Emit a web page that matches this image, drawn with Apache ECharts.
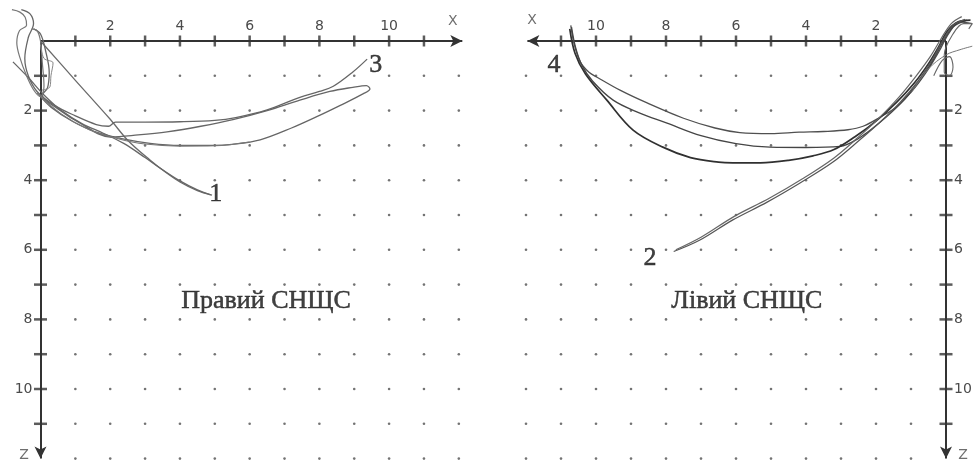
<!DOCTYPE html>
<html><head><meta charset="utf-8">
<script src="https://cdn.jsdelivr.net/npm/echarts@6/dist/echarts.min.js"></script>
<style>html,body{margin:0;padding:0;background:#fff}#c{width:973px;height:466px}</style>
</head><body><div id="c"></div>
<script>
// ---- tick / grid values ----
const tickValues = [1,2,3,4,5,6,7,8,9,10,11];
const dotXs = [1,2,3,4,5,6,7,8,9,10,11,12];
const dotZs = [1,2,3,4,5,6,7,8,9,10,11,12];
const labelValues = [2,4,6,8,10];
const axisEndL = [12.1, 12.0];    // [x end, z end] of left panel axes
const axisEndR = [11.96, 12.0];   // [x end, z end] of right panel axes

// ---- left panel (Правий СНЩС) traces, [x, z] ----
const right1a = [[0,0],[1,1.13],[2,2.25],[2.5,2.85],[3.14,3.42],[3.6,3.78],[4.0,4.05],[4.5,4.3],[4.92,4.43]];
const right1b = [[-0.79,0.6],[-0.35,1.05],[0.1,1.55],[0.6,2.0],[1.2,2.38],[1.8,2.65],[2.4,2.95],[3.0,3.35],[3.5,3.7],[4.0,4.02],[4.5,4.28],[4.88,4.42]];
const right3a = [[-0.55,-0.9],[-0.3,-0.78],[-0.2,-0.5],[-0.35,-0.1],[-0.45,0.5],[-0.35,1.0],[-0.1,1.45],[0.4,1.85],[1.0,2.15],[1.6,2.4],[1.95,2.45],[2.15,2.33],[3,2.33],[4,2.32],[5,2.28],[5.6,2.2],[6.5,1.98],[7.44,1.62],[8.0,1.45],[8.4,1.3],[8.96,0.89],[9.37,0.52]];
const right3b = [[-0.2,-0.35],[0.0,-0.2],[0.15,0.3],[0.25,0.9],[0.2,1.35],[0.05,1.55],[0.5,1.95],[1.2,2.4],[2.0,2.76],[2.8,2.7],[3.63,2.61],[4.6,2.45],[5.52,2.26],[6.5,2.0],[7.44,1.7],[8.3,1.45],[8.96,1.33],[9.35,1.28],[9.45,1.38],[9.25,1.52],[8.6,1.85],[8.02,2.13],[7.2,2.5],[6.3,2.84],[5.5,2.97],[4.95,3.0],[4.0,3.0],[3.14,2.94],[2.4,2.82],[1.6,2.62],[0.9,2.3],[0.3,1.9],[0.0,1.6]];
const right3c = [[-0.1,1.5],[0.6,2.1],[1.4,2.55],[2.2,2.8],[3.0,2.96],[4.0,3.02],[5.0,3.01],[6.0,2.9]];
const rightLoop = [[-0.82,-0.9],[-0.59,-0.83],[-0.44,-0.68],[-0.4,-0.45],[-0.6,-0.3],[-0.68,0.05],[-0.6,0.45],[-0.4,1.0],[-0.2,1.4],[0.0,1.6],[0.1,1.3],[0.05,0.6],[0.0,0.0],[-0.1,-0.3],[-0.25,-0.35]];
const rightLoop2 = [[0.0,0.1],[0.1,0.5],[0.36,0.63],[0.3,1.0],[0.27,1.32],[0.04,1.41]];

// ---- right panel (Лівий СНЩС) traces, [x, z] ----
const left4a = [[10.72,-0.45],[10.62,0.1],[10.45,0.6],[10.2,0.9],[9.97,1.04],[9.3,1.42],[8.54,1.78],[7.5,2.22],[6.6,2.5],[5.89,2.63],[5.0,2.66],[4.2,2.62],[3.5,2.6],[2.8,2.55],[2.37,2.45],[1.9,2.2],[1.4,1.88],[0.9,1.35],[0.5,0.8],[0.2,0.3],[-0.1,-0.25],[-0.4,-0.55],[-0.75,-0.5]];
const left4b = [[10.7,-0.4],[10.58,0.2],[10.4,0.7],[10.1,1.15],[9.51,1.7],[8.8,2.05],[7.97,2.36],[7.0,2.72],[6.0,2.95],[5.03,3.05],[4.0,3.06],[3.03,3.03],[2.5,2.8],[1.9,2.35],[1.3,1.8],[0.8,1.2],[0.4,0.6],[0.1,0.05],[-0.2,-0.4],[-0.6,-0.6]];
const left4c = [[10.75,-0.35],[10.6,0.35],[10.3,0.95],[9.69,1.7],[8.94,2.56],[8.09,3.05],[7.3,3.35],[6.5,3.48],[6.09,3.5],[5.3,3.5],[4.5,3.43],[3.8,3.3],[3.2,3.12],[2.6,2.75],[2.0,2.3],[1.4,1.75],[0.9,1.2],[0.5,0.65],[0.2,0.15],[-0.05,-0.3],[-0.35,-0.55],[-0.7,-0.6]];
const left2a = [[7.78,6.05],[7.03,5.72],[6.09,5.14],[5.11,4.63],[4.17,4.08],[3.23,3.48],[2.46,2.84],[1.85,2.3],[1.3,1.75],[0.8,1.15],[0.4,0.55],[0.1,0.0],[-0.2,-0.45],[-0.55,-0.62]];
const left2b = [[7.72,6.0],[7.0,5.64],[6.05,5.04],[5.05,4.52],[4.1,3.96],[3.2,3.36],[2.5,2.76],[1.9,2.2],[1.35,1.62],[0.85,1.0],[0.45,0.45],[0.15,-0.05],[-0.15,-0.5],[-0.45,-0.7]];
const leftLoop = [[0.35,1.0],[0.1,0.55],[-0.1,0.45],[-0.2,0.75],[-0.1,1.0],[0.05,0.9],[0.05,0.4],[-0.2,-0.2],[-0.5,-0.5],[-0.75,-0.5],[-0.65,-0.35]];
const leftLine = [[1.0,1.5],[0.5,0.8],[0.0,0.4],[-0.4,0.25],[-0.75,0.15]];

// ---- annotations ----
const leftTexts = [[5.03,4.4,'1'],[9.62,0.69,'3'],[6.47,7.47,'Правий СНЩС']];
const rightTexts = [[8.46,6.24,'2'],[11.2,0.69,'4'],[5.69,7.47,'Лівий СНЩС']];
const leftAxisNames = [[11.83,-0.57,'X'],[-0.47,11.9,'Z']];
const rightAxisNames = [[11.83,-0.6,'X'],[-0.49,11.9,'Z']];

// ---- layout ----
const SXL = 34.86, SXR = 35, SZ = 34.8;
const XMIN = -2, XMAX = 13, ZMIN = -1, ZMAX = 13;
const originL = [40.5, 41], originR = [946, 41];

const dots = [];
dotXs.forEach(x => dotZs.forEach(z => dots.push([x, z])));
const xTicks = tickValues.map(v => [v, 0]);
const zTicks = tickValues.map(v => [0, v]);

const lblFont = {fontFamily:'DejaVu Sans', fontSize:14, color:'#4a4a4a'};
function fmt(v){ return labelValues.indexOf(v) >= 0 ? String(v) : ''; }

function axesFor(g, sx, isRight){
  const xAx = {
    type:'value', gridIndex:g, position:'top', min:XMIN, max:XMAX, interval:1, inverse:isRight,
    offset: ZMIN * SZ,
    axisLine:{show:false, onZero:false}, axisTick:{show:false}, splitLine:{show:false},
    axisLabel:Object.assign({show:true, interval:0, margin:8, formatter:fmt, showMinLabel:false, showMaxLabel:false}, lblFont)
  };
  const yAx = {
    type:'value', gridIndex:g, position:isRight ? 'right' : 'left', min:ZMIN, max:ZMAX, interval:1, inverse:true,
    offset: XMIN * sx,
    axisLine:{show:false, onZero:false}, axisTick:{show:false}, splitLine:{show:false},
    axisLabel:Object.assign({show:true, interval:0, margin:8, formatter:fmt, showMinLabel:false, showMaxLabel:false}, lblFont)
  };
  return [xAx, yAx];
}
const [xa0, ya0] = axesFor(0, SXL, false);
const [xa1, ya1] = axesFor(1, SXR, true);

function gridFor(origin, sx, isRight){
  const w = (XMAX - XMIN) * sx, h = (ZMAX - ZMIN) * SZ;
  const left = isRight ? origin[0] - XMAX * sx : origin[0] + XMIN * sx;
  return {left:left, top:origin[1] + ZMIN * SZ, width:w, height:h, containLabel:false, outerBoundsMode:'none'};
}

function lineS(g, data, color, width){
  return {type:'line', xAxisIndex:g, yAxisIndex:g, data:data, smooth:0.35, clip:false,
    showSymbol:false, symbol:'none', silent:true, z:5,
    lineStyle:{color:color, width:width}};
}
function scatterS(g, data, sym, size, color, z, extra){
  return Object.assign({type:'scatter', xAxisIndex:g, yAxisIndex:g, data:data, symbol:sym, symbolSize:size,
    clip:false, silent:true, z:z, itemStyle:{color:color}}, extra || {});
}
function axisLines(end){
  return {markLine:{silent:true, symbol:['none','arrow'], symbolSize:[9,12], label:{show:false},
    lineStyle:{color:'#333', width:2, type:'solid'}, emphasis:{disabled:true},
    data:[
      [{coord:[0,0]},{coord:[end[0],0]}],
      [{coord:[0,0]},{coord:[0,end[1]]}]
    ]}};
}
function textS(g, arr, font, size, color, border){
  return {type:'scatter', xAxisIndex:g, yAxisIndex:g, clip:false, silent:true, z:10,
    symbolSize:1, itemStyle:{color:'rgba(0,0,0,0)'},
    data: arr.map(a => ({value:[a[0], a[1]], name:a[2]})),
    label:{show:true, position:'inside', formatter:p => p.name, fontFamily:font, fontSize:size, color:color,
      textBorderColor:color, textBorderWidth:border}};
}

const option = {
  backgroundColor:'#fff',
  animation:false,
  grid:[gridFor(originL, SXL, false), gridFor(originR, SXR, true)],
  xAxis:[xa0, xa1],
  yAxis:[ya0, ya1],
  series:[
    scatterS(0, dots, 'circle', 2.6, '#505050', 1),
    scatterS(1, dots, 'circle', 2.6, '#505050', 1),
    scatterS(0, xTicks, 'rect', [2.5,11], '#333', 3, axisLines(axisEndL)),
    scatterS(0, zTicks, 'rect', [13,2.5], '#333', 3),
    scatterS(1, xTicks, 'rect', [2.5,11], '#333', 3, axisLines(axisEndR)),
    scatterS(1, zTicks, 'rect', [13,2.5], '#333', 3),
    lineS(0, right1a, '#6a6a6a', 1.3),
    lineS(0, right1b, '#666', 1.3),
    lineS(0, right3a, '#666', 1.3),
    lineS(0, right3b, '#666', 1.3),
    lineS(0, right3c, '#777', 1.1),
    lineS(0, rightLoop, '#777', 1.2),
    lineS(0, rightLoop2, '#888', 1.0),
    lineS(1, left4a, '#505050', 1.3),
    lineS(1, left4b, '#454545', 1.3),
    lineS(1, left4c, '#303030', 1.7),
    lineS(1, left2a, '#555', 1.2),
    lineS(1, left2b, '#666', 1.2),
    lineS(1, leftLoop, '#666', 1.1),
    lineS(1, leftLine, '#777', 1.0),
    textS(0, leftTexts, 'Liberation Serif', 26, '#111', 0.5),
    textS(1, rightTexts, 'Liberation Serif', 26, '#111', 0.5),
    textS(0, leftAxisNames, 'DejaVu Sans', 14, '#4a4a4a', 0),
    textS(1, rightAxisNames, 'DejaVu Sans', 14, '#4a4a4a', 0)
  ]
};
const chart = echarts.init(document.getElementById('c'), null, {renderer:'canvas'});
chart.setOption(option);
</script>
</body></html>
